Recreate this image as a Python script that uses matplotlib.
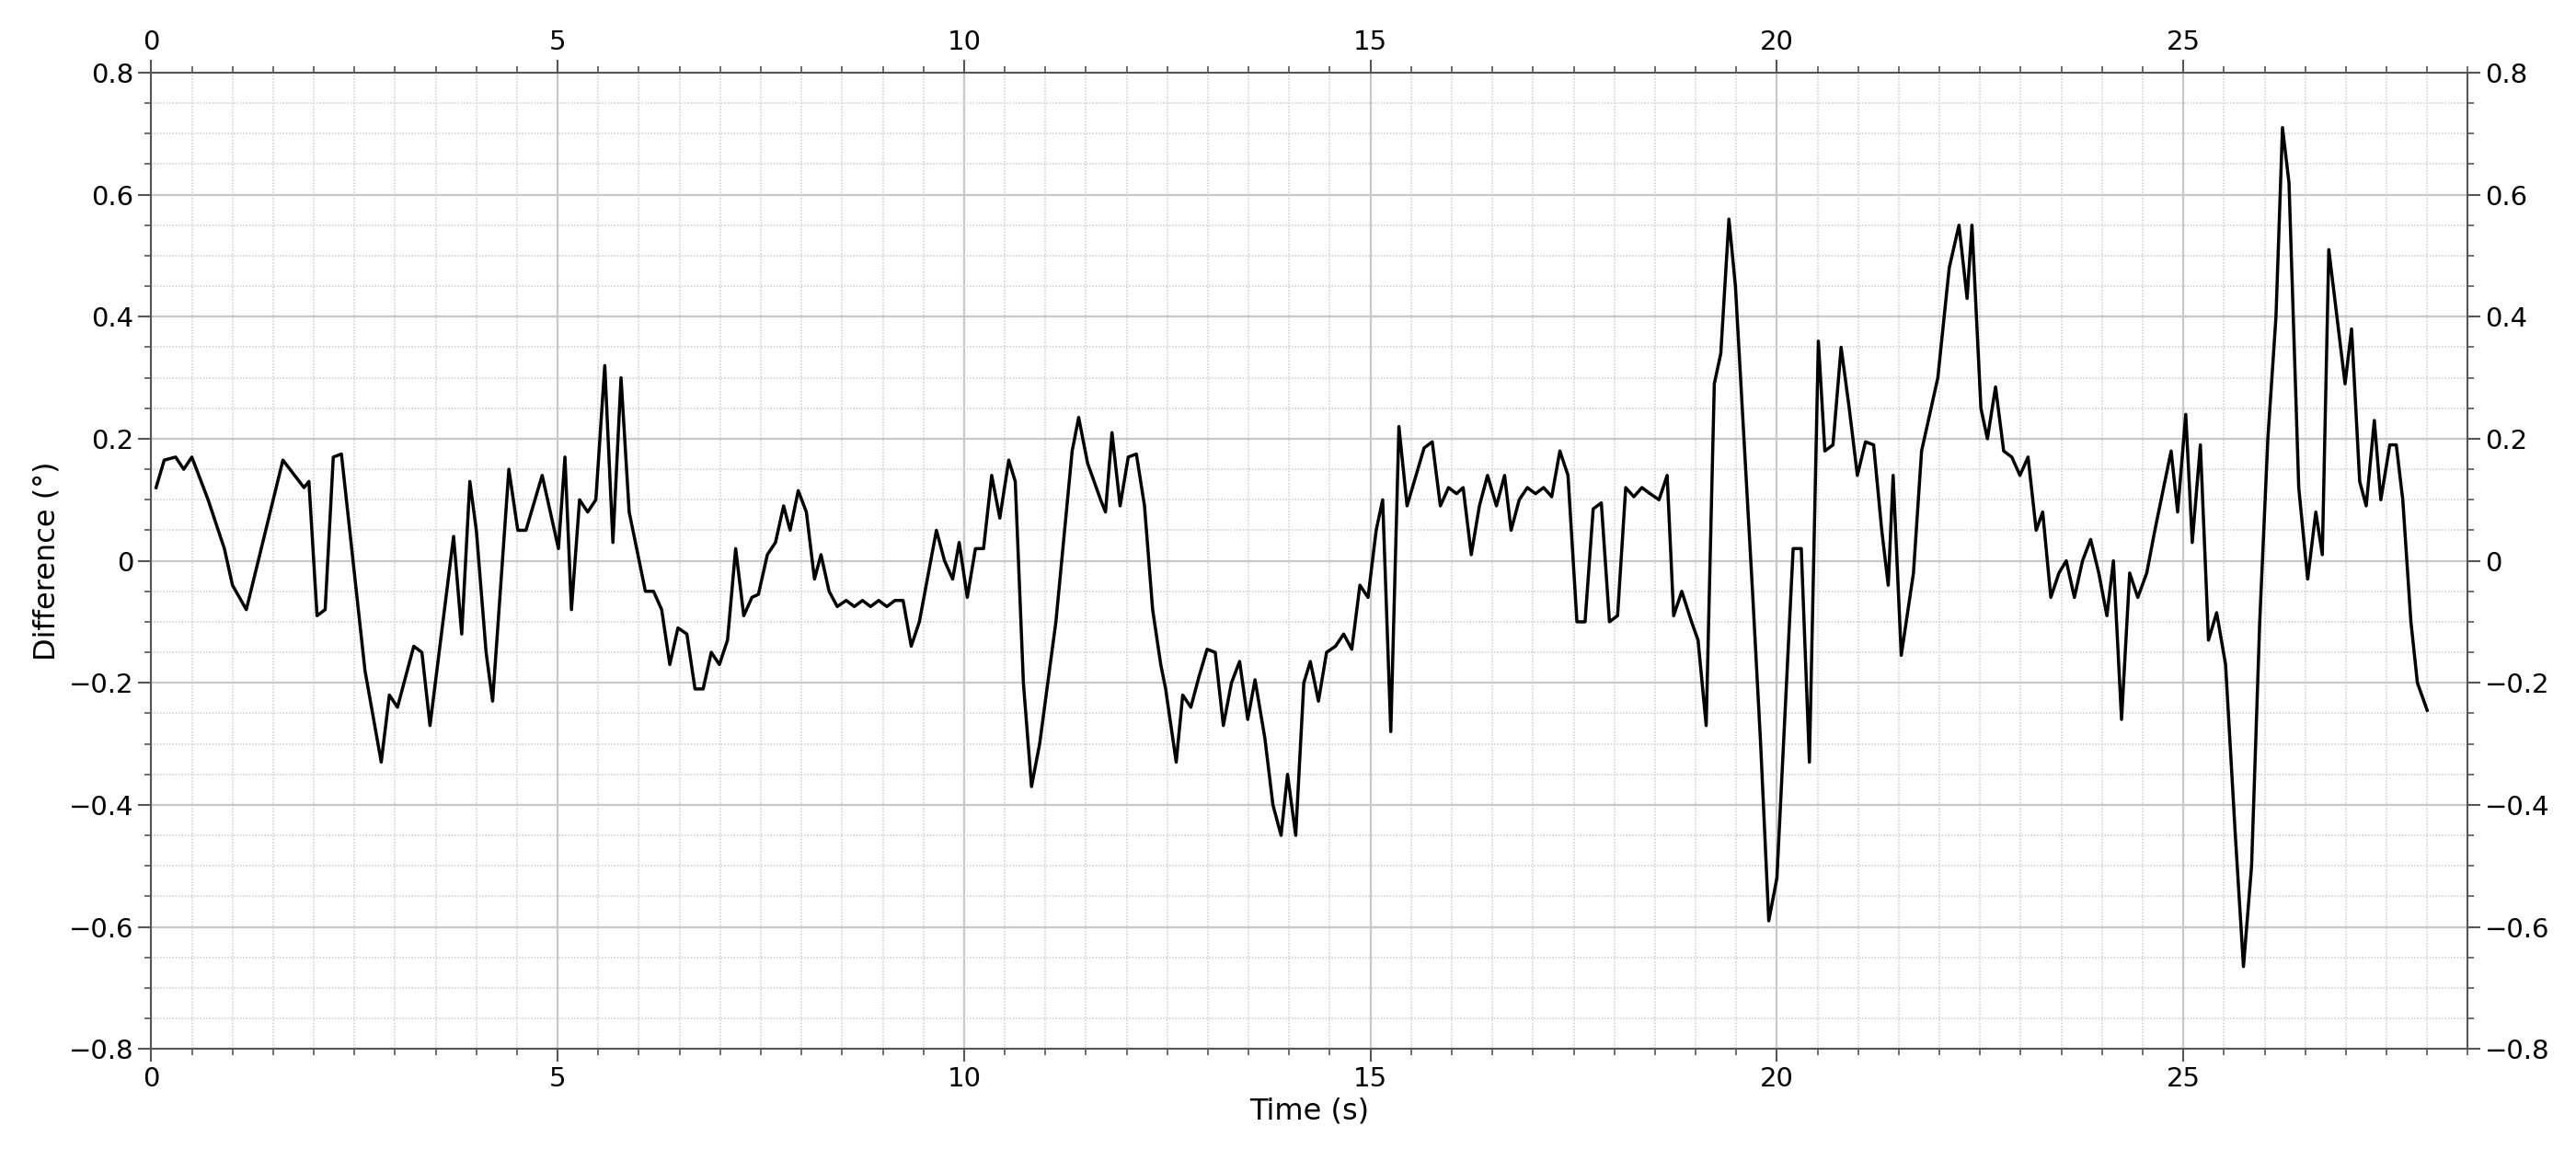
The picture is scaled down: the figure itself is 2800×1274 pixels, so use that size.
import numpy as np
import matplotlib.pyplot as plt
from matplotlib.ticker import MultipleLocator

# time (s) and difference (deg)
time = [0.06, 0.16, 0.3, 0.4, 0.5, 0.7, 0.9, 1.0, 1.17, 1.62, 1.88, 1.94, 2.04, 2.14, 2.24, 2.34,
        2.63, 2.83, 2.93, 3.03, 3.23, 3.33, 3.43, 3.72, 3.82, 3.92, 4.0, 4.12, 4.2, 4.4,
        4.51, 4.61, 4.81, 5.01, 5.09, 5.17, 5.27, 5.37, 5.47, 5.58, 5.68, 5.78, 5.88, 6.08,
        6.18, 6.28, 6.38, 6.48, 6.59, 6.69, 6.79, 6.89, 6.99, 7.09, 7.19, 7.29, 7.39, 7.47,
        7.58, 7.68, 7.78, 7.86, 7.96, 8.06, 8.16, 8.24, 8.34, 8.44, 8.55, 8.65, 8.75, 8.85,
        8.95, 9.05, 9.15, 9.25, 9.35, 9.45, 9.66, 9.76, 9.86, 9.94, 10.04, 10.14, 10.24,
        10.34, 10.44, 10.55, 10.63, 10.73, 10.83, 10.93, 11.13, 11.23, 11.33, 11.41, 11.52,
        11.68, 11.74, 11.82, 11.92, 12.02, 12.12, 12.22, 12.32, 12.42, 12.48, 12.61, 12.69,
        12.79, 12.89, 12.99, 13.09, 13.19, 13.29, 13.39, 13.49, 13.58, 13.7, 13.8, 13.9,
        13.98, 14.08, 14.18, 14.26, 14.36, 14.46, 14.57, 14.67, 14.77, 14.87, 14.97, 15.07,
        15.15, 15.25, 15.35, 15.45, 15.56, 15.66, 15.76, 15.86, 15.96, 16.06, 16.14, 16.24,
        16.34, 16.44, 16.55, 16.65, 16.73, 16.83, 16.93, 17.03, 17.13, 17.23, 17.33, 17.43,
        17.54, 17.64, 17.74, 17.84, 17.94, 18.04, 18.14, 18.24, 18.34, 18.44, 18.55, 18.65,
        18.73, 18.83, 18.95, 19.03, 19.13, 19.23, 19.31, 19.41, 19.49, 19.7, 19.8, 19.9,
        20.0, 20.2, 20.3, 20.4, 20.51, 20.59, 20.69, 20.79, 20.89, 20.99, 21.09, 21.19,
        21.29, 21.37, 21.43, 21.53, 21.68, 21.78, 21.98, 22.12, 22.24, 22.34, 22.4, 22.51,
        22.59, 22.69, 22.79, 22.89, 22.99, 23.09, 23.19, 23.27, 23.37, 23.47, 23.56, 23.66,
        23.76, 23.86, 23.96, 24.06, 24.14, 24.24, 24.34, 24.44, 24.55, 24.65, 24.85, 24.93,
        25.03, 25.11, 25.21, 25.31, 25.41, 25.52, 25.64, 25.74, 25.84, 25.94, 26.04, 26.14,
        26.22, 26.3, 26.42, 26.53, 26.63, 26.71, 26.79, 26.89, 26.99, 27.07, 27.17, 27.25,
        27.35, 27.43, 27.54, 27.62, 27.7, 27.8, 27.88, 28.0]
diff = [0.12, 0.165, 0.17, 0.15, 0.17, 0.1, 0.02, -0.04, -0.08, 0.165, 0.12, 0.13, -0.09, -0.08, 0.17, 0.175,
        -0.18, -0.33, -0.22, -0.24, -0.14, -0.15, -0.27, 0.04, -0.12, 0.13, 0.05, -0.15, -0.23, 0.15,
        0.05, 0.05, 0.14, 0.02, 0.17, -0.08, 0.1, 0.08, 0.1, 0.32, 0.03, 0.3, 0.08, -0.05,
        -0.05, -0.08, -0.17, -0.11, -0.12, -0.21, -0.21, -0.15, -0.17, -0.13, 0.02, -0.09, -0.06, -0.055,
        0.01, 0.03, 0.09, 0.05, 0.115, 0.08, -0.03, 0.01, -0.05, -0.075, -0.065, -0.075, -0.065, -0.075,
        -0.065, -0.075, -0.065, -0.065, -0.14, -0.1, 0.05, 0.0, -0.03, 0.03, -0.06, 0.02, 0.02,
        0.14, 0.07, 0.165, 0.13, -0.2, -0.37, -0.3, -0.1, 0.04, 0.18, 0.235, 0.16,
        0.1, 0.08, 0.21, 0.09, 0.17, 0.175, 0.09, -0.08, -0.17, -0.21, -0.33, -0.22,
        -0.24, -0.19, -0.145, -0.15, -0.27, -0.2, -0.165, -0.26, -0.195, -0.29, -0.4, -0.45,
        -0.35, -0.45, -0.2, -0.165, -0.23, -0.15, -0.14, -0.12, -0.145, -0.04, -0.06, 0.05,
        0.1, -0.28, 0.22, 0.09, 0.14, 0.185, 0.195, 0.09, 0.12, 0.11, 0.12, 0.01,
        0.09, 0.14, 0.09, 0.14, 0.05, 0.1, 0.12, 0.11, 0.12, 0.105, 0.18, 0.14,
        -0.1, -0.1, 0.085, 0.095, -0.1, -0.09, 0.12, 0.105, 0.12, 0.11, 0.1, 0.14,
        -0.09, -0.05, -0.1, -0.13, -0.27, 0.29, 0.34, 0.56, 0.45, -0.05, -0.3, -0.59,
        -0.52, 0.02, 0.02, -0.33, 0.36, 0.18, 0.19, 0.35, 0.25, 0.14, 0.195, 0.19,
        0.05, -0.04, 0.14, -0.155, -0.02, 0.18, 0.3, 0.48, 0.55, 0.43, 0.55, 0.25,
        0.2, 0.285, 0.18, 0.17, 0.14, 0.17, 0.05, 0.08, -0.06, -0.02, 0.0, -0.06,
        0.0, 0.035, -0.02, -0.09, 0.0, -0.26, -0.02, -0.06, -0.02, 0.05, 0.18, 0.08,
        0.24, 0.03, 0.19, -0.13, -0.085, -0.17, -0.45, -0.665, -0.5, -0.1, 0.2, 0.4,
        0.71, 0.62, 0.12, -0.03, 0.08, 0.01, 0.51, 0.4, 0.29, 0.38, 0.13, 0.09,
        0.23, 0.1, 0.19, 0.19, 0.1, -0.1, -0.2, -0.245]

plt.rcParams['font.family'] = ['DejaVu Sans']
fig = plt.figure(figsize=(28, 12.74), dpi=100)
ax = fig.add_axes([0.0587, 0.105, 0.8993, 0.833])
ax.plot(time, diff, color='black', lw=2.5)

ax.set_xlim(0, 28.5)
ax.set_ylim(-0.8, 0.8)
ax.xaxis.set_major_locator(MultipleLocator(5))
ax.xaxis.set_minor_locator(MultipleLocator(0.5))
ax.yaxis.set_major_locator(MultipleLocator(0.2))
ax.yaxis.set_minor_locator(MultipleLocator(0.05))
ax.grid(which='major', color='#c8c8c8', lw=1.6)
ax.grid(which='minor', color='#d4d4d4', lw=1.2, ls=(0, (1, 1)))
ax.set_axisbelow(True)

ax.tick_params(which='both', direction='out', top=True, right=True,
               labeltop=True, labelright=True, labelsize=21, color='#555555')
ax.tick_params(which='major', length=10, width=1.5)
ax.tick_params(which='minor', length=5, width=1.2)
ax.yaxis.set_major_formatter(lambda v, p: '0' if abs(v) < 1e-9 else f'{v:.1f}'.replace('-', '\u2212'))
for s in ax.spines.values():
    s.set_color('#555555')
    s.set_linewidth(1.5)

ax.set_xlabel('Time (s)', fontsize=23, labelpad=4)
ax.set_ylabel('Difference (°)', fontsize=23, labelpad=6)

fig.savefig('out.png', dpi=100, facecolor='white')
